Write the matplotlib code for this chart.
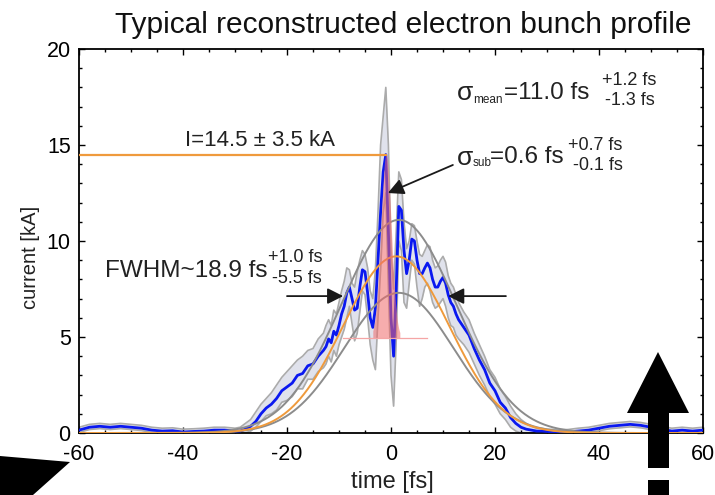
import numpy as np
import matplotlib
matplotlib.use("Agg")
import matplotlib.pyplot as plt
from matplotlib.patches import Polygon, FancyArrowPatch
from matplotlib.ticker import MultipleLocator

plt.rcParams["font.family"] = ["Liberation Sans", "DejaVu Sans"]
plt.rcParams["axes.unicode_minus"] = False

W, H = 715, 495

# sampled reconstructed profile (fs, kA)
TIME = [-60, -58, -56, -54, -52, -50, -48, -46, -44, -42, -40, -38, -36, -34, -32, -30,
        -29, -28, -27, -26, -25, -24, -23, -22, -21, -20, -19, -18, -17, -16, -15, -14, -13,
        -12.5, -12, -11.5, -11, -10.5, -10, -9.5, -9, -8.5, -8, -7.5, -7, -6.5, -6, -5.5, -5,
        -4.5, -4, -3.5, -3, -2.5, -2, -1.5, -1, -0.5, 0, 0.5, 1, 1.5, 2, 2.5, 3, 3.5, 4,
        4.5, 5, 5.5, 6, 6.5, 7, 7.5, 8, 8.5, 9, 9.5, 10, 10.5, 11, 11.5, 12, 12.5,
        13, 14, 15, 16, 17, 18, 19, 20, 21, 22, 23, 24, 25, 26, 27, 28, 29, 30,
        32, 34, 36, 38, 40, 42, 44, 46, 48, 50, 52, 54, 56, 58, 60]

PROFILE = [0.15, 0.30, 0.35, 0.30, 0.35, 0.30, 0.25, 0.15, 0.10, 0.12, 0.05, 0.08, 0.10, 0.15, 0.15, 0.10,
           0.10, 0.20, 0.35, 0.60, 1.00, 1.30, 1.50, 1.80, 2.20, 2.40, 2.60, 3.00, 3.10, 3.50, 3.60, 4.00, 4.30,
           4.5, 4.9, 4.7, 5.3, 5.1, 5.6, 6.2, 6.6, 7.3, 7.6, 7.0, 6.4, 6.5, 7.6, 8.5, 8.4,
           7.3, 6.0, 5.5, 6.5, 9.0, 11.5, 13.6, 14.5, 10.5, 6.0, 4.0, 7.5, 11.8, 11.6, 9.5, 8.3, 9.0, 10.1,
           10.0, 9.0, 8.3, 8.3, 8.6, 8.85, 8.6, 8.0, 7.6, 7.6, 7.9, 8.1, 7.8, 7.2, 6.8, 6.6, 6.2,
           5.9, 5.5, 5.1, 4.4, 3.8, 3.3, 2.6, 2.2, 1.6, 1.3, 0.8, 0.5, 0.3, 0.2, 0.15, 0.1, 0.1, 0.08,
           0.05, 0.05, 0.10, 0.15, 0.25, 0.35, 0.40, 0.45, 0.40, 0.30, 0.20, 0.10, 0.15, 0.10, 0.15]

BAND_HI = [0.30, 0.45, 0.50, 0.45, 0.50, 0.45, 0.40, 0.30, 0.25, 0.27, 0.20, 0.22, 0.25, 0.30, 0.30, 0.25,
           0.3, 0.5, 0.7, 1.1, 1.5, 1.8, 2.1, 2.5, 2.9, 3.2, 3.5, 3.8, 4.0, 4.3, 4.4, 4.9, 5.2,
           5.6, 5.9, 5.6, 6.4, 6.2, 6.8, 7.4, 7.9, 8.6, 8.5, 7.8, 7.6, 8.4, 9.0, 9.5, 9.3,
           8.6, 7.4, 7.0, 8.5, 11.5, 15.0, 16.5, 18.0, 15.0, 9.5, 7.5, 10.5, 13.6, 13.2, 11.0, 9.6, 10.0, 10.9,
           10.8, 10.0, 9.3, 9.2, 9.5, 9.8, 9.7, 9.0, 8.6, 8.7, 9.0, 9.2, 8.9, 8.2, 7.8, 7.6, 7.2,
           6.8, 6.3, 5.9, 5.2, 4.6, 4.0, 3.3, 2.9, 2.3, 1.9, 1.4, 1.0, 0.7, 0.5, 0.35, 0.25, 0.25, 0.2,
           0.18, 0.18, 0.25, 0.30, 0.40, 0.50, 0.55, 0.60, 0.55, 0.45, 0.35, 0.25, 0.30, 0.25, 0.30]

BAND_LO = [0.03, 0.18, 0.23, 0.18, 0.23, 0.18, 0.13, 0.03, 0.0, 0.0, 0.0, 0.0, 0.0, 0.03, 0.03, 0.0,
           0.0, 0.0, 0.1, 0.3, 0.6, 0.9, 1.0, 1.2, 1.6, 1.7, 1.9, 2.3, 2.3, 2.8, 2.8, 3.2, 3.4,
           3.6, 4.0, 3.7, 4.3, 4.0, 4.6, 5.0, 5.4, 6.0, 6.6, 5.7, 4.8, 5.2, 6.3, 7.4, 7.2,
           6.0, 4.6, 3.8, 3.3, 6.0, 8.5, 11.5, 12.5, 7.5, 3.0, 1.4, 4.8, 10.0, 9.5, 6.8, 6.5, 7.8, 9.0,
           8.8, 7.6, 6.6, 7.0, 7.6, 7.8, 7.4, 6.8, 6.5, 6.6, 6.8, 7.0, 6.6, 6.0, 5.6, 5.5, 5.1,
           4.9, 4.6, 4.2, 3.6, 3.0, 2.5, 1.9, 1.5, 1.0, 0.7, 0.3, 0.1, 0.0, 0.0, 0.0, 0.0, 0.0, 0.0,
           0.0, 0.0, 0.0, 0.03, 0.12, 0.22, 0.27, 0.32, 0.27, 0.17, 0.07, 0.0, 0.03, 0.0, 0.03]

# gaussian fits: amplitude [kA], centre [fs], sigma [fs]
FIT_MEAN = (9.2, 1.0, 10.2)
FIT_HIGH = (11.1, 1.5, 11.0)
FIT_LOW = (7.3, 1.5, 10.5)
# narrow sub-peak sitting on a pedestal
SUB_PEAK = (9.55, -0.95, 1.0)
SUB_BASE = 4.95
SUB_RANGE = (-3.5, 1.7)
SUB_BASE_LINE = (-9.2, 6.9)
PEAK_CURRENT = 14.5


def gauss(t, amp, mu, sig):
    return amp * np.exp(-0.5 * ((t - mu) / sig) ** 2)


def fpos(x, y):
    return x / W, 1 - y / H


fig = plt.figure(figsize=(W / 100, H / 100), dpi=100)
l, r, t, b = 79, 703, 49, 433
ax = fig.add_axes([l / W, 1 - b / H, (r - l) / W, (b - t) / H])

tt = np.asarray(TIME)
ax.fill_between(tt, BAND_LO, BAND_HI, color="#e0e2ec", lw=0, zorder=1)
ax.plot(tt, BAND_HI, color="#ababab", lw=1.2, zorder=2)
ax.plot(tt, BAND_LO, color="#ababab", lw=1.2, zorder=2)
ax.plot(tt, PROFILE, color="#0a18f0", lw=2.0, zorder=3)

tf = np.linspace(-60, 60, 800)
for fit in (FIT_HIGH, FIT_LOW):
    ax.plot(tf, gauss(tf, *fit), color="#8c8c8c", lw=1.4, zorder=4)
ax.plot(tf, gauss(tf, *FIT_MEAN), color="#ef9a3c", lw=1.4, zorder=4)

ts = np.linspace(SUB_RANGE[0], SUB_RANGE[1], 200)
ax.fill_between(ts, SUB_BASE, SUB_BASE + gauss(ts, *SUB_PEAK), color="#f06a6a",
                alpha=0.55, lw=0, zorder=5)
ax.plot(SUB_BASE_LINE, [SUB_BASE, SUB_BASE], color="#f5a5a5", lw=0.9, zorder=5)
ax.plot([-60, SUB_PEAK[1]], [PEAK_CURRENT, PEAK_CURRENT], color="#ef9a3c", lw=1.6, zorder=5)

arrow_kw = dict(arrowstyle="-|>,head_length=9.5,head_width=4.8", mutation_scale=1,
                color="#1a1a1a", lw=1.3, shrinkA=0, shrinkB=0, zorder=6)
ax.add_patch(FancyArrowPatch((11.9, 13.96), (-0.6, 12.5), **arrow_kw))
ax.add_patch(FancyArrowPatch((-20.0, 7.13), (-9.2, 7.13), **arrow_kw))
ax.add_patch(FancyArrowPatch((22.1, 7.13), (11.0, 7.13), **arrow_kw))

ax.set_xlim(-60, 60)
ax.set_ylim(0, 20)
ax.xaxis.set_major_locator(MultipleLocator(20))
ax.xaxis.set_minor_locator(MultipleLocator(5))
ax.yaxis.set_major_locator(MultipleLocator(5))
ax.yaxis.set_minor_locator(MultipleLocator(1))
ax.tick_params(which="both", direction="in", top=True, right=True, labelsize=15.5, width=1.0)
ax.tick_params(which="major", length=4, pad=6)
ax.tick_params(axis="x", which="major", pad=8)
ax.tick_params(which="minor", length=2.5)
for s in ax.spines.values():
    s.set_linewidth(1.3)

txt = dict(color="#222222", va="baseline", ha="left")
fig.text(*fpos(403, 33), "Typical reconstructed electron bunch profile", fontsize=21.5,
         color="#111111", ha="center", va="baseline")
fig.text(*fpos(392, 488), "time [fs]", fontsize=17, color="#222222", ha="center", va="baseline")
fig.text(*fpos(30, 257), "current [kA]", fontsize=14.5, color="#222222", ha="center",
         va="center", rotation=90)

fig.text(*fpos(185, 146), "I=14.5 \u00b1 3.5 kA", fontsize=16, **txt)

fig.text(*fpos(457, 100), "\u03c3", fontsize=19, **txt)
fig.text(*fpos(473, 103), "mean", fontsize=8.5, **txt)
fig.text(*fpos(504, 99), "=11.0 fs", fontsize=17.5, **txt)
fig.text(*fpos(602, 85), "+1.2 fs", fontsize=13, **txt)
fig.text(*fpos(605, 105), "-1.3 fs", fontsize=13, **txt)

fig.text(*fpos(457, 165), "\u03c3", fontsize=19, **txt)
fig.text(*fpos(473, 166), "sub", fontsize=8.5, **txt)
fig.text(*fpos(490, 163), "=0.6 fs", fontsize=17.5, **txt)
fig.text(*fpos(568, 150), "+0.7 fs", fontsize=13, **txt)
fig.text(*fpos(573, 170), "-0.1 fs", fontsize=13, **txt)

fig.text(*fpos(105, 277), "FWHM~18.9 fs", fontsize=17.5, **txt)
fig.text(*fpos(268, 262), "+1.0 fs", fontsize=13, **txt)
fig.text(*fpos(272, 283), "-5.5 fs", fontsize=13, **txt)


# black overlay marks at the figure edges
def fig_poly(pts):
    fig.add_artist(Polygon([fpos(x, y) for x, y in pts], closed=True,
                           transform=fig.transFigure, color="black", lw=0))


fig_poly([(0, 456), (70, 462), (33, 495), (0, 495)])
fig_poly([(627, 413), (658, 352), (689, 413)])
fig_poly([(648, 413), (669, 413), (669, 468), (648, 468)])
fig_poly([(648, 480), (669, 480), (669, 495), (648, 495)])

fig.savefig("out.png", dpi=100)
